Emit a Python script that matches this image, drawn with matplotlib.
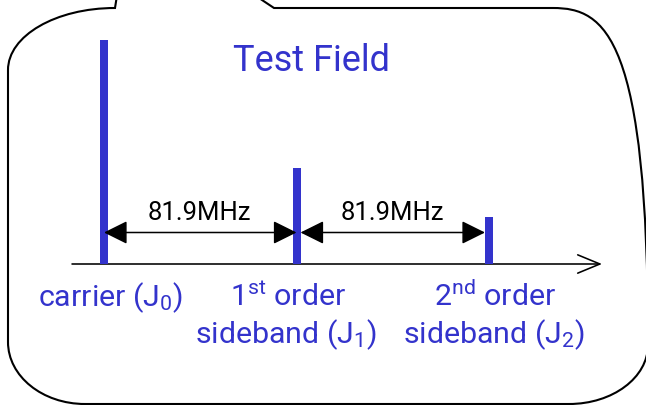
import matplotlib
matplotlib.use("Agg")
import matplotlib.pyplot as plt
from matplotlib.path import Path
from matplotlib.patches import PathPatch

# ---------------- data ----------------
components = ["carrier (J0)", "1st order sideband (J1)", "2nd order sideband (J2)"]
freq_offsets_mhz = [0.0, 81.9, 163.8]
amplitudes = [1.0, 0.43, 0.21]
spacing_labels = ["81.9MHz", "81.9MHz"]
title_text = "Test Field"

BLUE = "#3333cc"
W, H = 646, 405
FP = dict(family=["Roboto", "DejaVu Sans"])

fig = plt.figure(figsize=(W / 100, H / 100), dpi=100)

# data axes mapped so that the spectrum lands where the reference has it
px_per_mhz = (489 - 104) / 163.8
px_per_amp = 224.0
x0_px, base_px = 104.0, 264.0
ax = fig.add_axes([0, 0, 1, 1])
ax.set_xlim(-x0_px / px_per_mhz, (W - x0_px) / px_per_mhz)
ax.set_ylim((base_px - H) / px_per_amp, base_px / px_per_amp)
ax.axis("off")

bar_w = 8 / px_per_mhz
ax.bar(freq_offsets_mhz, amplitudes, width=bar_w, color=BLUE, bottom=0, zorder=3)

# frequency axis with open arrowhead
ax.annotate("", xy=(freq_offsets_mhz[0] + (602 - 104) / px_per_mhz, 0),
            xytext=(freq_offsets_mhz[0] - (104 - 72) / px_per_mhz, 0),
            arrowprops=dict(arrowstyle="->,head_length=1.6,head_width=0.66",
                            mutation_scale=10, lw=1.15, color="black",
                            shrinkA=0, shrinkB=0), zorder=2)

# spacing arrows
arrow_y = (base_px - 232.5) / px_per_amp
half = bar_w / 2
ax.annotate("", xy=(freq_offsets_mhz[1], arrow_y), xytext=(freq_offsets_mhz[0], arrow_y),
            arrowprops=dict(arrowstyle="<|-|>,head_length=1.45,head_width=0.72",
                            mutation_scale=10, lw=1.1, color="black",
                            shrinkA=0, shrinkB=0), zorder=4)
ax.annotate("", xy=(freq_offsets_mhz[2] - half, arrow_y), xytext=(freq_offsets_mhz[1] + half, arrow_y),
            arrowprops=dict(arrowstyle="<|-|>,head_length=1.45,head_width=0.72",
                            mutation_scale=10, lw=1.1, color="black",
                            shrinkA=0, shrinkB=0), zorder=4)

# overlay axes in pixel coordinates (y down) for outline and text
ov = fig.add_axes([0, 0, 1, 1])
ov.set_xlim(0, W)
ov.set_ylim(H, 0)
ov.axis("off")
ov.patch.set_alpha(0)

k = 0.5523
verts, codes = [], []
def M(p):
    verts.append(p); codes.append(Path.MOVETO)
def L(p):
    verts.append(p); codes.append(Path.LINETO)
def C(c1, c2, p):
    verts.extend([c1, c2, p]); codes.extend([Path.CURVE4] * 3)

M((118.5, -14))
L((115, 8))
cx, cy, rx, ry = 115, 70, 107, 62
C((cx - k * rx, cy - ry), (cx - rx, cy - k * ry), (cx - rx, cy))
L((8, 342))
cx, cy, rx, ry = 85, 342, 77, 62
C((cx - rx, cy + k * ry), (cx - k * rx, cy + ry), (cx, cy + ry))
L((569, 404))
cx, cy, rx, ry = 569, 345, 79, 59
C((cx + k * rx, cy + ry), (cx + rx, cy + k * ry), (cx + rx, cy))
L((648, 72))
cx, cy, rx, ry = 553, 72, 95, 64
C((cx + rx, cy - k * ry), (cx + k * rx, cy - ry), (cx, cy - ry))
L((274, 8))
L((250, -8))
ov.add_patch(PathPatch(Path(verts, codes), facecolor="none", edgecolor="black", lw=1.5))

texts = []
def place(s, x, y, color, target_w=None, size=20):
    t = ov.text(x, y, s, color=color, ha="center", va="baseline", fontsize=size, **FP)
    texts.append((t, target_w))
    return t

t_title = place(title_text, 311.5, 71, BLUE, 157)
t_m1 = place(spacing_labels[0], 199.5, 220, "black", 103)
t_m2 = place(spacing_labels[1], 392.5, 220, "black", 103)
t_c = place(r"carrier (J$\mathregular{_0}$)", 110.5, 306, BLUE, None)
t_1a = place(r"1$\mathregular{^{st}}$ order", 288, 306, BLUE, None)
t_1b = place(r"sideband (J$\mathregular{_1}$)", 286, 343, BLUE, 182)
t_2a = place(r"2$\mathregular{^{nd}}$ order", 495, 306, BLUE, None)
t_2b = place(r"sideband (J$\mathregular{_2}$)", 494, 343, BLUE, None)

# fit font sizes to the reference text widths
for _ in range(3):
    fig.canvas.draw()
    r = fig.canvas.get_renderer()
    for t, tw in texts:
        if tw:
            w = t.get_window_extent(r).width
            t.set_fontsize(t.get_fontsize() * tw / w)
label_size = t_1b.get_fontsize()
for t in (t_c, t_1a, t_2a, t_2b):
    t.set_fontsize(label_size)
ms = (t_m1.get_fontsize() + t_m2.get_fontsize()) / 2
t_m1.set_fontsize(ms); t_m2.set_fontsize(ms)

fig.savefig("out.png", dpi=100)
